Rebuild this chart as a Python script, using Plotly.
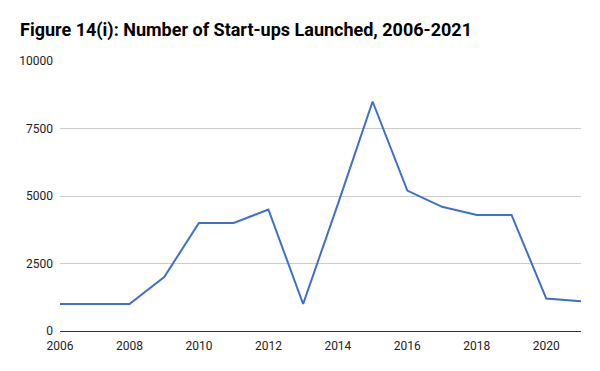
import plotly.graph_objects as go

years = list(range(2006, 2022))
startups = [1000, 1000, 1000, 2000, 4000, 4000, 4500, 1000, 4700, 8500, 5200, 4600, 4300, 4300, 1200, 1100]
y_ticks = [0, 2500, 5000, 7500, 10000]
y_tick_labels = ["0", "2500", "5000", "7500", "10000"]
x_ticks = [2006, 2008, 2010, 2012, 2014, 2016, 2018, 2020]

fig = go.Figure(go.Scatter(x=years, y=startups, mode="lines",
                           line=dict(color="#3d6fcc", width=2)))

# page body has an 8px default margin; compensate
W, H = 600, 371
fig.update_layout(
    width=W - 16, height=H - 16,
    margin=dict(l=52, r=11, t=53, b=32),
    paper_bgcolor="white", plot_bgcolor="white",
    showlegend=False,
    title=dict(text="<b>Figure 14(i): Number of Start-ups Launched, 2006-2021</b>",
               x=12/(W - 16), xanchor="left", y=1-22/(H - 16), yanchor="middle",
               font=dict(family="Roboto", size=18, color="#000000")),
    font=dict(family="Roboto", size=12, color="#222222"),
)
fig.update_xaxes(range=[2006, 2021], tickvals=x_ticks, showgrid=False,
                 zeroline=False, showline=False, ticks="", ticklen=0,
                 ticklabelstandoff=6)
fig.update_yaxes(range=[0, 10000], tickvals=y_ticks, ticktext=y_tick_labels,
                 showgrid=True, gridcolor="#cccccc", gridwidth=1, zeroline=True,
                 zerolinecolor="#333333", zerolinewidth=1, showline=False,
                 ticks="", ticklen=0, ticklabelstandoff=6)

fig.write_html("out.html")
